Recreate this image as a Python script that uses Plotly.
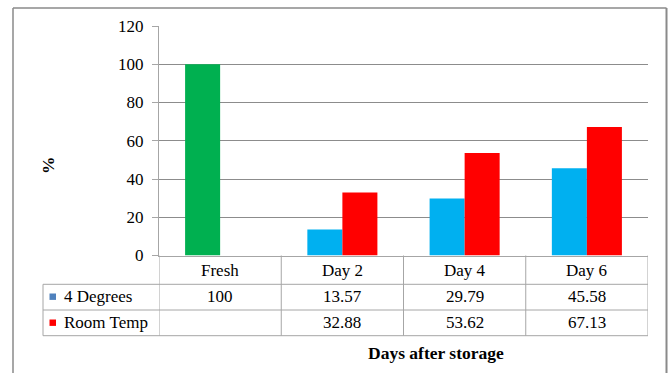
import plotly.graph_objects as go

# Data
categories = ["Fresh", "Day 2", "Day 4", "Day 6"]
series_names = ["4 Degrees", "Room Temp"]
four_degrees = [100, 13.57, 29.79, 45.58]
room_temp = [None, 32.88, 53.62, 67.13]
y_ticks = [0, 20, 40, 60, 80, 100, 120]

W, H = 670, 373
FONT = "Liberation Serif, Times New Roman, serif"
TXT = dict(family=FONT, size=17, color="black")
BOLD = dict(family=FONT, size=17.5, color="black")
GRID = "#8c8c8c"
LINE = "#a6a6a6"


def px_x(p):
    return p / W


def px_y(p):
    return (H - p) / H


four_colors = ["#00B050"] + ["#00B0F0"] * (len(categories) - 1)

fig = go.Figure()
fig.add_trace(go.Bar(x=categories, y=four_degrees, name=series_names[0],
                     marker=dict(color=four_colors, line=dict(width=0))))
fig.add_trace(go.Bar(x=categories, y=room_temp, name=series_names[1],
                     marker=dict(color="#FF0000", line=dict(width=0))))

plot_left, plot_right = 159, 648
plot_top, plot_bottom = 26, 255.5

fig.update_layout(
    template="none",
    width=W, height=H, autosize=False,
    margin=dict(l=0, r=0, t=0, b=0, pad=0, autoexpand=False),
    paper_bgcolor="white", plot_bgcolor="white",
    showlegend=False,
    barmode="group", bargap=0.427, bargroupgap=0,
    font=TXT,
    xaxis=dict(domain=[px_x(plot_left), px_x(plot_right)],
               showticklabels=False, ticks="", showgrid=False,
               showline=True, linecolor=LINE, linewidth=1,
               zeroline=False, automargin=False,
               range=[-0.5, len(categories) - 0.5], fixedrange=True),
    yaxis=dict(domain=[px_y(plot_bottom), px_y(plot_top)],
               range=[0, 120], tickvals=y_ticks,
               ticks="outside", ticklen=6, tickcolor=LINE, tickwidth=1,
               ticklabelstandoff=5,
               showgrid=True, gridcolor=GRID, gridwidth=1,
               showline=True, linecolor=LINE, linewidth=1,
               zeroline=False, automargin=False,
               tickfont=TXT, fixedrange=True),
)

# Data table under the plot
row_lines = [255.5, 284.3, 310, 335.7]
table_left = 43
shapes = []
for yp in row_lines[1:]:
    shapes.append(dict(type="line", xref="paper", yref="paper",
                       x0=px_x(table_left), x1=px_x(plot_right),
                       y0=px_y(yp), y1=px_y(yp),
                       line=dict(color=LINE, width=1)))
# vertical separators between categories
for k in range(len(categories) + 1):
    shapes.append(dict(type="line", xref="x", yref="paper",
                       x0=k - 0.5, x1=k - 0.5,
                       y0=px_y(row_lines[0]), y1=px_y(row_lines[-1]),
                       line=dict(color=LINE, width=1)))
shapes.append(dict(type="line", xref="paper", yref="paper",
                   x0=px_x(table_left), x1=px_x(table_left),
                   y0=px_y(row_lines[1]), y1=px_y(row_lines[-1]),
                   line=dict(color=LINE, width=1)))

# legend keys inside the table
key_colors = ["#4F81BD", "#FF0000"]
row_centers = [270, 296.7, 322.7]
for c, yc in zip(key_colors, row_centers[1:]):
    shapes.append(dict(type="rect", xref="paper", yref="paper",
                       x0=px_x(49.5), x1=px_x(56),
                       y0=px_y(yc + 3.2), y1=px_y(yc - 3.2),
                       fillcolor=c, line=dict(width=0)))

# outer chart frame
frame = "#8a8a8a"
shapes.append(dict(type="line", xref="paper", yref="paper",
                   x0=px_x(13), x1=px_x(13), y0=px_y(8), y1=0,
                   line=dict(color=frame, width=1.5)))
shapes.append(dict(type="line", xref="paper", yref="paper",
                   x0=px_x(13), x1=px_x(666.5), y0=px_y(8), y1=px_y(8),
                   line=dict(color=frame, width=1.5)))
shapes.append(dict(type="line", xref="paper", yref="paper",
                   x0=px_x(666.5), x1=px_x(666.5), y0=px_y(8), y1=0,
                   line=dict(color=frame, width=2)))

annotations = []
for cat in categories:
    annotations.append(dict(x=cat, xref="x", y=px_y(row_centers[0]), yref="paper",
                            text=cat, showarrow=False, font=TXT,
                            xanchor="center", yanchor="middle"))


def fmt(v):
    if v is None:
        return ""
    return f"{v:g}" if float(v).is_integer() else f"{v:.2f}"


for name, vals, yc in zip(series_names, [four_degrees, room_temp], row_centers[1:]):
    annotations.append(dict(x=px_x(62), xref="paper", y=px_y(yc), yref="paper",
                            text=name, showarrow=False, font=TXT,
                            xanchor="left", yanchor="middle"))
    for cat, v in zip(categories, vals):
        annotations.append(dict(x=cat, xref="x", y=px_y(yc), yref="paper",
                                text=fmt(v), showarrow=False, font=TXT,
                                xanchor="center", yanchor="middle"))

annotations.append(dict(x=px_x(436), xref="paper", y=px_y(352.5), yref="paper",
                        text="<b>Days after storage</b>", showarrow=False,
                        xanchor="center", yanchor="middle", font=BOLD))
annotations.append(dict(x=px_x(48), xref="paper", y=px_y(165), yref="paper",
                        text="<b>%</b>", showarrow=False, textangle=-90,
                        xanchor="center", yanchor="middle", font=BOLD))

fig.update_layout(shapes=shapes, annotations=annotations)

fig.write_html("out.html")
